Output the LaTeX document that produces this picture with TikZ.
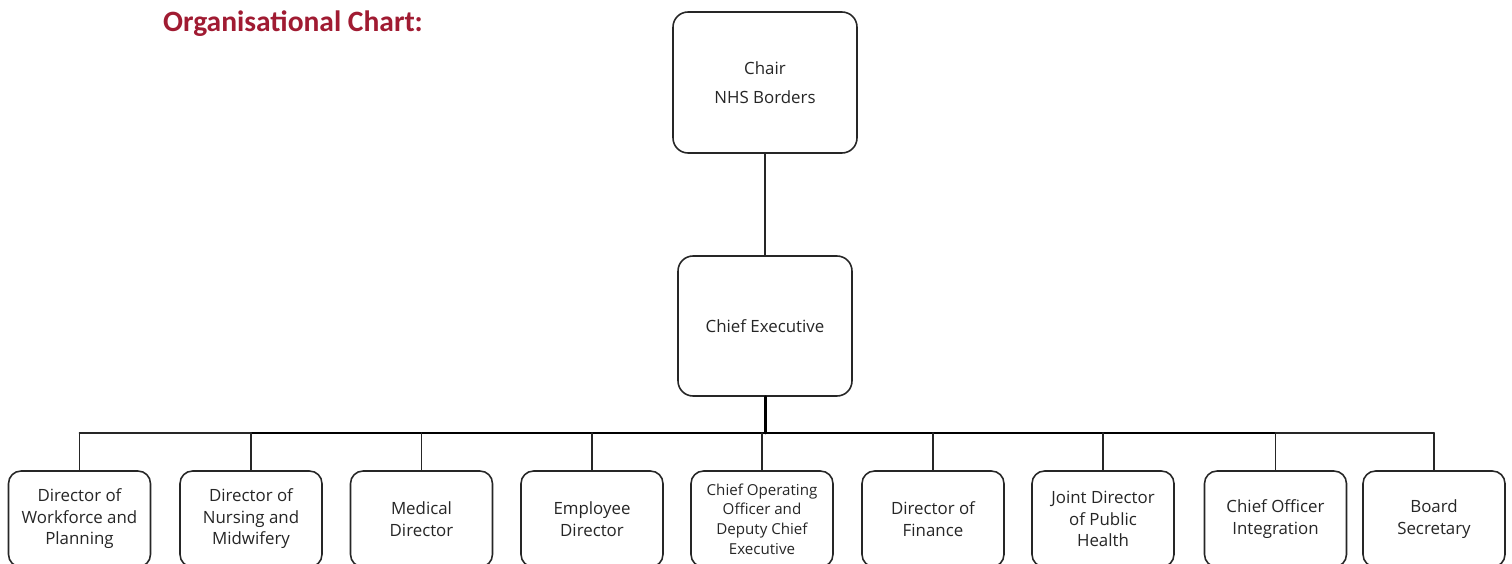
\documentclass[tikz,border=0pt]{standalone}
\usepackage{fontspec}
\setmainfont{Open Sans}
\newfontfamily\titlefont{Carlito}
\usepackage{tikz}

\begin{document}
\begin{tikzpicture}
	[x=0.02cm,y=-0.02cm,line cap=round,
	%Styles
	post/.style={draw=black!85,line width=0.9pt,fill=white,align=center,inner sep=2pt,
		text=black!85,font=\fontsize{9.6}{12.2}\selectfont},
	top post/.style={post,rounded corners=0.3cm,minimum width=3.68cm,minimum height=2.82cm},
	head post/.style={post,rounded corners=0.3cm,minimum width=3.48cm,minimum height=2.8cm},
	team post/.style={post,rounded corners=0.25cm,minimum width=2.84cm,minimum height=1.92cm},
	link/.style={draw=black!85,line width=1pt},
	bus line/.style={draw=black,line width=1.7pt}
	]
	
	%Colors
	\definecolor{titlered}{RGB}{160,27,50}
	
	\useasboundingbox (0,0) rectangle (1512,564);
	
	%The graphic
	\node[text=titlered,font=\titlefont\bfseries\fontsize{16.8}{20}\selectfont]
		(title) at (293,24) {Organisational Chart:};
	
	\node[top post] (chair) at (765,82.5) {Chair\\[4.5pt] NHS Borders};
	\node[head post] (ceo) at (765,326) {Chief Executive};
	
	\node[team post] (d1) at (79.5,519) {Director of\\ Workforce and\\ Planning};
	\node[team post] (d2) at (251,519) {Director of\\ Nursing and\\ Midwifery};
	\node[team post] (d3) at (421.5,519) {Medical\\ Director};
	\node[team post] (d4) at (592,519) {Employee\\ Director};
	\node[team post,font=\fontsize{8.6}{11.2}\selectfont] (d5) at (762,519)
		{Chief Operating\\ Officer and\\ Deputy Chief\\ Executive};
	\node[team post] (d6) at (933,519) {Director of\\ Finance};
	\node[team post] (d7) at (1103,519) {Joint Director\\ of Public\\ Health};
	\node[team post] (d8) at (1275.5,519) {Chief Officer\\ Integration};
	\node[team post] (d9) at (1434,519) {Board\\ Secretary};
	
	\coordinate (bus) at (765,433);
	
	\path[link] (chair) -- (ceo);
	\path[bus line] (ceo) -- (bus);
	\path[bus line] (bus -| d2) -- (bus -| d8);
	\path[link] (bus -| d1) -- (bus -| d2)
		(bus -| d8) -- (bus -| d9);
	\foreach \n in {1,...,9}
		\path[link] (bus -| d\n) -- (d\n.north);
	
\end{tikzpicture}
\end{document}
